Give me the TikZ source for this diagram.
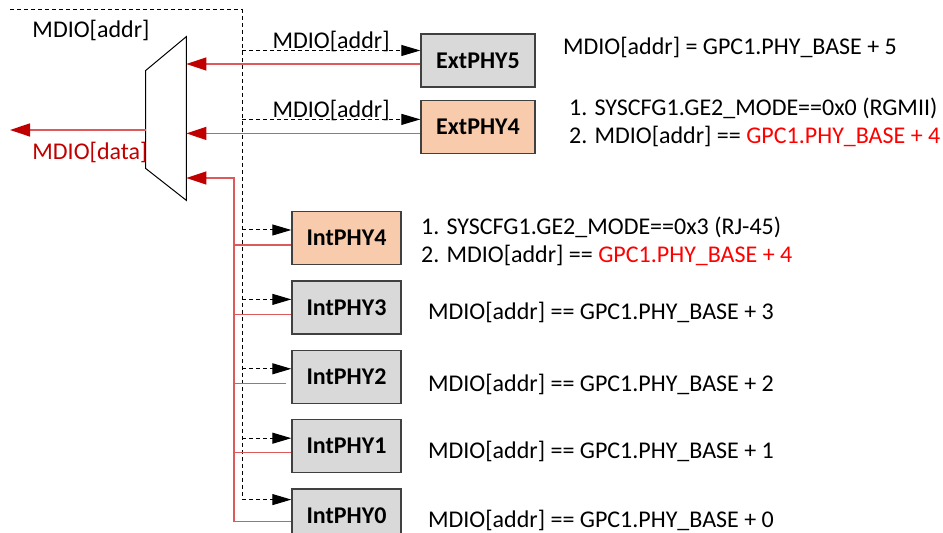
\documentclass[tikz,border=0pt]{standalone}
\usepackage{fontspec}
\setmainfont{Carlito}
\usepackage{tikz}
\usetikzlibrary{positioning,arrows.meta,calc}
\definecolor{phygray}{RGB}{217,217,217}
\definecolor{phyorange}{RGB}{248,203,173}
\definecolor{bdgray}{RGB}{64,64,64}
\definecolor{dred}{RGB}{192,0,0}
\definecolor{lred}{RGB}{222,90,90}
\definecolor{nred}{RGB}{255,0,0}

\begin{document}
\begin{tikzpicture}[
    x=0.5pt, y=-0.5pt,
    font=\fontsize{12}{14}\selectfont,
    node distance=7.5pt,
    phy/.style={draw=bdgray, line width=0.7pt, minimum height=26.5pt, minimum width=54.5pt,
                inner sep=0pt, fill=phygray, font=\fontsize{12}{14}\selectfont\bfseries},
    ext/.style={phy, minimum width=57pt},
    sel/.style={fill=phyorange},
    note/.style={inner sep=0pt, align=left, anchor=west},
    lbl/.style={inner sep=0pt},
    addrline/.style={dash pattern=on 2pt off 1.5pt, line width=0.5pt},
    addr/.style={addrline, -{Triangle[length=9.5pt, width=5.5pt]}},
    dataline/.style={lred, line width=0.65pt},
    data/.style={dataline, -{Triangle[length=10pt, width=6.5pt, color=dred]}}
]
\useasboundingbox (0,0) rectangle (943,533);

% phys
\node[ext] (ext5) at (478,60.5) {ExtPHY5};
\node[ext, sel, below=6pt of ext5] (ext4) {ExtPHY4};
\node[phy, sel] (int4) at (346.5,238) {IntPHY4};
\node[phy, below=of int4] (int3) {IntPHY3};
\node[phy, below=of int3] (int2) {IntPHY2};
\node[phy, below=of int2] (int1) {IntPHY1};
\node[phy, below=of int1] (int0) {IntPHY0};

% mux
\node[minimum width=20pt, minimum height=81.5pt, inner sep=0pt] (mux) at (166,118.5) {};
\draw[line width=0.5pt] (mux.north east) -- (mux.south east)
    -- ($(mux.south west)+(0,-32)$) -- ($(mux.north west)+(0,34)$) -- cycle;

% ports
\coordinate (addrin) at (10,10);
\coordinate (addrbus) at (242,10);
\coordinate (dataout) at (10,130);
\coordinate (databus) at (234,178);
\coordinate (ext5a) at ([yshift=5pt]ext5.west);
\coordinate (ext5d) at ([yshift=-1.75pt]ext5.west);
\coordinate (ext4a) at ([yshift=3.75pt]ext4.west);
\coordinate (ext4d) at ([yshift=-3.25pt]ext4.west);
\coordinate (int4a) at ([yshift=4pt]int4.west);
\coordinate (int4d) at ([yshift=-3.5pt]int4.west);
\coordinate (int3a) at ([yshift=4pt]int3.west);
\coordinate (int3d) at ([yshift=-3.5pt]int3.west);
\coordinate (int2a) at ([yshift=4pt]int2.west);
\coordinate (int2d) at ([yshift=-3.5pt]int2.west);
\coordinate (int1a) at ([yshift=4pt]int1.west);
\coordinate (int1d) at ([yshift=-3pt]int1.west);
\coordinate (int0a) at ([yshift=8pt]int0.west);
\coordinate (int0d) at ([yshift=-3pt]int0.west);

% address bus
\node[lbl] (addrlbl) at (91,30) {MDIO[addr]};
\draw[addrline] (addrin) -- (addrbus) -- (addrbus |- int0a);
\draw[addr] (addrbus |- ext5a) -- (ext5a) node[midway, above, lbl, yshift=-1pt] {MDIO[addr]};
\draw[addr] (addrbus |- ext4a) -- (ext4a) node[midway, above, lbl, yshift=-1pt] {MDIO[addr]};
\draw[addr] (addrbus |- int4a) -- (int4a);
\draw[addr] (addrbus |- int3a) -- (int3a);
\draw[addr] (addrbus |- int2a) -- (int2a);
\draw[addr] (addrbus |- int1a) -- (int1a);
\draw[addr] (addrbus |- int0a) -- (int0a);

% data bus
\draw[data] (ext5d) -- (mux.east |- ext5d);
\draw[data] (ext4d) -- (mux.east |- ext4d);
\draw[data] (int0d) -| (databus) -- (mux.east |- databus);
\draw[dataline] (int4d) -- (databus |- int4d);
\draw[dataline] (int3d) -- (databus |- int3d);
\draw[dataline] ([xshift=-2.5pt]int2d) -- (databus |- int2d);
\draw[dataline] (int1d) -- (databus |- int1d);
\draw[data] (mux.west |- dataout) -- (dataout);
\node[lbl, text=dred] (datalbl) at (90,152) {MDIO[data]};

% notes
\node[note, right=13.5pt of ext5, yshift=6.75pt] (ext5note) {MDIO[addr] = GPC1.PHY\_BASE + 5};
\node[note, right=16.5pt of ext4, yshift=2.25pt] (ext4note)
     {1. SYSCFG1.GE2\_MODE==0x0 (RGMII)\\2. MDIO[addr] == \textcolor{nred}{GPC1.PHY\_BASE + 4}};
\node[note, right=9.5pt of int4, yshift=-1.5pt] (int4note)
     {1. SYSCFG1.GE2\_MODE==0x3 (RJ-45)\\2. MDIO[addr] == \textcolor{nred}{GPC1.PHY\_BASE + 4}};
\node[note, right=13pt of int3, yshift=-2.5pt] (int3note) {MDIO[addr] == GPC1.PHY\_BASE + 3};
\node[note, right=13pt of int2, yshift=-4pt] (int2note) {MDIO[addr] == GPC1.PHY\_BASE + 2};
\node[note, right=13pt of int1, yshift=-2.5pt] (int1note) {MDIO[addr] == GPC1.PHY\_BASE + 1};
\node[note, right=13pt of int0, yshift=-2.5pt] (int0note) {MDIO[addr] == GPC1.PHY\_BASE + 0};
\end{tikzpicture}
\end{document}
